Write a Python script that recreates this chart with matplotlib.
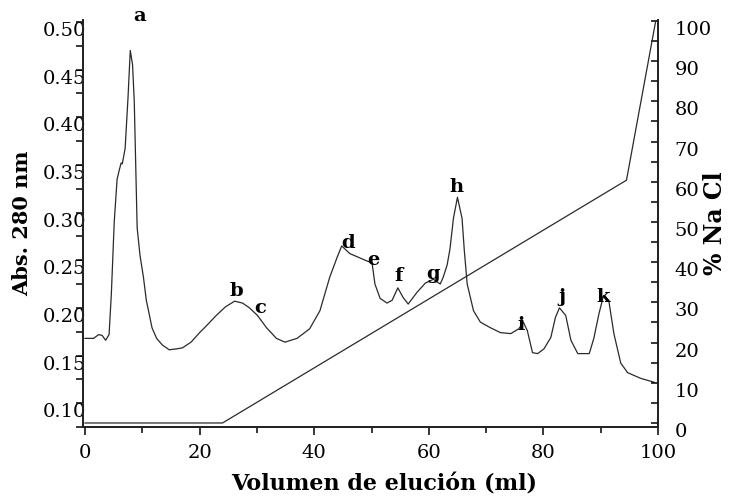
import matplotlib
matplotlib.use('Agg')
import matplotlib.pyplot as plt
from matplotlib.ticker import MultipleLocator

plt.rcParams['font.family'] = ['DejaVu Serif']

# Absorbance trace (elution volume ml, Abs 280 nm)
vol = [0.0, 1.5, 2.4, 3.0, 3.6, 4.2, 4.6, 5.1, 5.6, 6.0, 6.3, 6.5, 7.0, 7.5, 7.9, 8.3,
       8.6, 9.1, 9.6, 10.2, 10.7, 11.7, 12.5, 13.5, 14.7, 16.0, 17.0, 18.5, 20.0, 21.0,
       22.9, 24.5, 26.1, 27.5, 28.7, 30.1, 31.7, 33.4, 34.9, 37.0, 39.2, 41.0, 42.7,
       44.0, 44.8, 46.2, 48.5, 50.1, 50.6, 51.5, 52.7, 53.6, 54.6, 55.5, 56.4, 57.9,
       59.4, 60.8, 62.0, 62.5, 63.2, 63.7, 64.3, 65.0, 65.8, 66.2, 66.7, 67.8, 69.0,
       70.8, 72.5, 74.3, 75.7, 76.5, 77.2, 78.1, 79.0, 80.1, 81.3, 82.1, 82.8, 83.9,
       84.8, 86.0, 88.0, 88.8, 89.7, 90.5, 91.4, 92.3, 93.5, 94.7, 97.0, 99.3]
absorb = [0.168, 0.168, 0.172, 0.171, 0.166, 0.172, 0.215, 0.290, 0.335, 0.345, 0.352, 0.351,
          0.367, 0.420, 0.470, 0.455, 0.416, 0.284, 0.255, 0.232, 0.208, 0.179, 0.168,
          0.161, 0.156, 0.157, 0.158, 0.164, 0.174, 0.180, 0.192, 0.201, 0.207, 0.205,
          0.200, 0.192, 0.179, 0.168, 0.164, 0.168, 0.178, 0.197, 0.232, 0.253, 0.265,
          0.257, 0.251, 0.247, 0.225, 0.210, 0.205, 0.208, 0.221, 0.211, 0.204, 0.216,
          0.226, 0.230, 0.225, 0.232, 0.245, 0.262, 0.294, 0.316, 0.294, 0.260, 0.225,
          0.197, 0.185, 0.179, 0.174, 0.173, 0.178, 0.185, 0.176, 0.153, 0.152, 0.157,
          0.169, 0.190, 0.200, 0.192, 0.166, 0.152, 0.152, 0.168, 0.194, 0.213, 0.208,
          0.173, 0.142, 0.132, 0.126, 0.122]

# NaCl gradient (% NaCl)
grad_vol = [0.0, 24.0, 94.5, 99.6]
grad_nacl = [0.0, 0.0, 60.4, 100.0]

# peak letters and their anchor points (ml, Abs)
peak_names = ['a', 'b', 'c', 'd', 'e', 'f', 'g', 'h', 'i', 'j', 'k']
peak_x = [9.6, 26.4, 30.5, 45.9, 50.4, 54.8, 60.7, 64.9, 76.1, 83.2, 90.4]
peak_y = [0.508, 0.220, 0.202, 0.270, 0.2525, 0.235, 0.238, 0.329, 0.184, 0.213, 0.213]

fig = plt.figure(figsize=(7.4, 4.98), dpi=100)
ax = fig.add_axes([83 / 740, 1 - 427 / 498, 575 / 740, 407 / 498])
ax2 = ax.twinx()

ax.plot(vol, absorb, color='#2a2a2a', lw=0.9)
ax2.plot(grad_vol, grad_nacl, color='#2a2a2a', lw=0.9)

for name, px, py in zip(peak_names, peak_x, peak_y):
    ax.text(px, py, name, fontsize=14, fontweight='bold', ha='center', va='center_baseline')

ax.set_xlim(-0.35, 100)
ax.set_ylim(0.075, 0.502)
ax2.set_ylim(-1, 100.25)

ax.spines['top'].set_visible(False)
ax2.spines['top'].set_visible(False)
for a in (ax, ax2):
    for s in a.spines.values():
        s.set_linewidth(1.3)
        s.set_color('#222222')

ax.xaxis.set_major_locator(MultipleLocator(20))
ax.xaxis.set_minor_locator(MultipleLocator(10))
ax.yaxis.set_minor_locator(MultipleLocator(0.025))
ax2.yaxis.set_minor_locator(MultipleLocator(5))
ax.set_yticks([0.10, 0.15, 0.20, 0.25, 0.30, 0.35, 0.40, 0.45, 0.50])
ax.set_yticklabels(['0.10', '0.15', '0.20', '0.25', '0.30', '0.35', '0.40', '0.45', '0.50'])
ax2.set_yticks(range(0, 101, 10))

ax.tick_params(axis='x', which='major', direction='out', length=6, width=1.1, labelsize=14, pad=6)
ax.tick_params(axis='x', which='minor', direction='out', length=4, width=1.1)
ax.tick_params(axis='y', which='both', direction='out', length=5, width=1.1, labelsize=14, pad=-7)
ax2.tick_params(axis='y', which='both', direction='in', length=5, width=1.1, labelsize=14, pad=12)

for lab in ax.get_yticklabels() + ax2.get_yticklabels():
    lab.set_va('top')

ax.set_xlabel('Volumen de elución (ml)', fontsize=16, fontweight='bold')
ax.xaxis.set_label_coords(0.523, -0.115)
ax.set_ylabel('Abs. 280 nm', fontsize=15, fontweight='bold')
ax.yaxis.set_label_coords(-0.088, 0.5)
ax2.set_ylabel('% Na Cl', fontsize=17, fontweight='bold')
ax2.yaxis.set_label_coords(1.078, 0.5)

fig.savefig('out.png', dpi=100)
